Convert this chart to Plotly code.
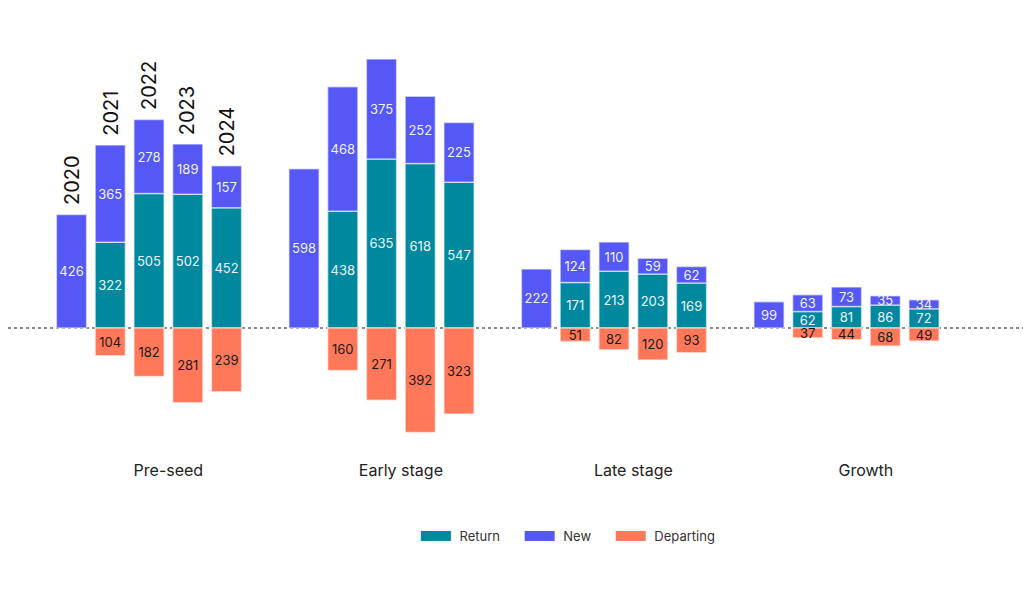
import plotly.graph_objects as go

groups = ["Pre-seed", "Early stage", "Late stage", "Growth"]
years = ["2020", "2021", "2022", "2023", "2024"]

return_vals = [
    [None, 322, 505, 502, 452],
    [None, 438, 635, 618, 547],
    [None, 171, 213, 203, 169],
    [None, 62, 81, 86, 72],
]
new_vals = [
    [426, 365, 278, 189, 157],
    [598, 468, 375, 252, 225],
    [222, 124, 110, 59, 62],
    [99, 63, 73, 35, 34],
]
departing_vals = [
    [None, 104, 182, 281, 239],
    [None, 160, 271, 392, 323],
    [None, 51, 82, 120, 93],
    [None, 37, 44, 68, 49],
]

series_names = ["Return", "New", "Departing"]
series_colors = ["#00899e", "#5558f5", "#ff785a"]

GROUP_GAP = 6
xs, r, n, d = [], [], [], []
for g in range(len(groups)):
    for j in range(len(years)):
        xs.append(GROUP_GAP * g + j - 2)
        r.append(return_vals[g][j])
        n.append(new_vals[g][j])
        d.append(-departing_vals[g][j] if departing_vals[g][j] is not None else None)

def txt(vals):
    return ["" if v is None else str(abs(v)) for v in vals]

line = dict(color="rgba(255,255,255,0.55)", width=1.5)
common = dict(width=0.78, textposition="inside", insidetextanchor="middle",
              textangle=0, constraintext="none", cliponaxis=False, showlegend=False)

fig = go.Figure()
fig.add_trace(go.Bar(name="Return", x=xs, y=r, text=txt(r),
                     marker=dict(color=series_colors[0], line=line),
                     textfont=dict(color="#eef2fb", size=13), **common))
fig.add_trace(go.Bar(name="New", x=xs, y=n, text=txt(n),
                     marker=dict(color=series_colors[1], line=line),
                     textfont=dict(color="#eef2fb", size=13), **common))
fig.add_trace(go.Bar(name="Departing", x=xs, y=d, text=txt(d),
                     marker=dict(color=series_colors[2], line=line),
                     textfont=dict(color="#1a1a1a", size=13), **common))

# legend entries with wide swatches
NB = "\u00a0"
for name, col in zip(series_names, series_colors):
    fig.add_trace(go.Scatter(name=NB + name + NB * 4, x=[None], y=[None], mode="lines",
                             line=dict(color=col, width=10), showlegend=True,
                             hoverinfo="skip"))

# Year labels above pre-seed bars
for j, yr in enumerate(years):
    top = (return_vals[0][j] or 0) + (new_vals[0][j] or 0)
    fig.add_annotation(x=j - 2, y=top, text=yr, textangle=-90, showarrow=False,
                       xanchor="center", yanchor="bottom", yshift=7,
                       font=dict(size=20, color="#111111"))

fig.add_shape(type="line", xref="paper", yref="y", x0=0, x1=1, y0=0, y1=0,
              line=dict(color="#666666", width=1.5, dash="dot"), layer="below")

fig.update_layout(
    width=1035, height=589,
    barmode="relative",
    paper_bgcolor="white", plot_bgcolor="white",
    font=dict(family="Inter", color="#222222"),
    margin=dict(l=0, r=20, t=12, b=138),
    uniformtext=dict(mode="show", minsize=13),
    xaxis=dict(range=[-3.639, 22.555], tickvals=[GROUP_GAP * g + 0.5 for g in range(len(groups))],
               ticktext=groups, showgrid=False, zeroline=False, showline=False,
               tickfont=dict(size=16, color="#222222"), ticks=""),
    yaxis=dict(range=[-491.9, 1156.6], showgrid=False, zeroline=False, showticklabels=False,
               showline=False),
    legend=dict(orientation="h", x=0.559, xanchor="center", y=-0.1754, yanchor="middle",
                font=dict(size=13, color="#333333"), traceorder="normal",
                itemwidth=30),
    showlegend=True,
)

fig.write_html("out.html")
